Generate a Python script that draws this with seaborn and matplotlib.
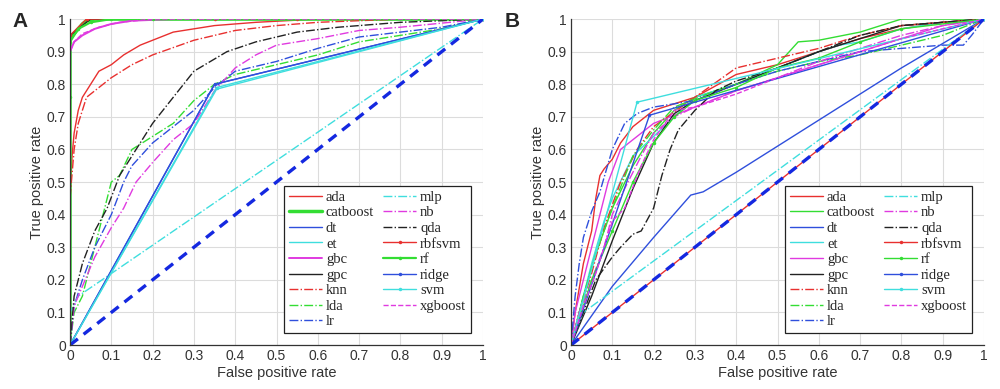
import numpy as np
import pandas as pd
import matplotlib
matplotlib.use("Agg")
import matplotlib.pyplot as plt
import seaborn as sns

# ── ROC points ────────────────────────────────────────────────────────
models = ["ada", "catboost", "dt", "et", "gbc", "gpc", "knn", "lda", "lr",
          "mlp", "nb", "qda", "rbfsvm", "rf", "ridge", "svm", "xgboost"]

# panel A
a_fpr = {
    "ada": [0, 0, 0.005, 0.01, 0.02, 0.03, 0.05, 0.07, 0.1, 0.13, 0.17, 0.2, 0.25, 0.3, 0.35, 0.45, 0.6, 1],
    "catboost": [0, 0, 0.01, 0.02, 0.03, 0.04, 0.06, 1],
    "dt": [0, 0.35, 1],
    "et": [0, 0.355, 1],
    "gbc": [0, 0, 0.01, 0.03, 0.06, 0.1, 0.15, 0.25, 1],
    "gpc": [0, 0, 0.02, 0.05, 1],
    "knn": [0, 0, 0.01, 0.02, 0.04, 0.07, 0.1, 0.15, 0.2, 0.3, 0.4, 0.5, 0.6, 0.8, 1],
    "lda": [0, 0.01, 0.03, 0.05, 0.07, 0.1, 0.12, 0.15, 0.2, 0.25, 0.3, 0.35, 0.4, 0.5, 0.6, 0.7, 0.8, 0.9, 1],
    "lr": [0, 0.01, 0.03, 0.06, 0.1, 0.13, 0.15, 0.2, 0.25, 0.3, 0.35, 0.4, 0.5, 0.6, 0.7, 0.8, 0.9, 1],
    "mlp": [0, 0, 0.02, 1],
    "nb": [0, 0.01, 0.03, 0.06, 0.1, 0.13, 0.16, 0.2, 0.25, 0.3, 0.35, 0.4, 0.45, 0.5, 0.6, 0.7, 0.8, 1],
    "qda": [0, 0.01, 0.03, 0.06, 0.09, 0.12, 0.15, 0.2, 0.25, 0.3, 0.38, 0.45, 0.55, 0.65, 0.8, 1],
    "rbfsvm": [0, 0, 0.04, 0.35, 0.55, 1],
    "rf": [0, 0, 0, 0.02, 0.05, 0.1, 0.2, 1],
    "ridge": [0, 0.35, 1],
    "svm": [0, 0.355, 1],
    "xgboost": [0, 0, 0.01, 0.03, 0.07, 0.12, 0.2, 1],
}
a_tpr = {
    "ada": [0, 0.45, 0.58, 0.65, 0.72, 0.76, 0.80, 0.84, 0.86, 0.89, 0.92, 0.935, 0.96, 0.97, 0.98, 0.99, 1, 1],
    "catboost": [0, 0.94, 0.955, 0.97, 0.985, 0.995, 1, 1],
    "dt": [0, 0.8, 1],
    "et": [0, 0.785, 1],
    "gbc": [0, 0.9, 0.93, 0.95, 0.97, 0.985, 0.995, 1, 1],
    "gpc": [0, 0.95, 0.97, 1, 1],
    "knn": [0, 0.45, 0.6, 0.68, 0.76, 0.79, 0.82, 0.86, 0.89, 0.935, 0.965, 0.98, 0.99, 1, 1],
    "lda": [0, 0.1, 0.15, 0.25, 0.35, 0.5, 0.52, 0.6, 0.64, 0.68, 0.75, 0.8, 0.83, 0.86, 0.89, 0.93, 0.95, 0.97, 1],
    "lr": [0, 0.12, 0.2, 0.3, 0.4, 0.5, 0.55, 0.62, 0.67, 0.72, 0.79, 0.84, 0.87, 0.91, 0.945, 0.96, 0.975, 1],
    "mlp": [0, 0.1, 0.15, 1],
    "nb": [0, 0.12, 0.18, 0.27, 0.36, 0.42, 0.5, 0.56, 0.63, 0.68, 0.78, 0.85, 0.89, 0.92, 0.94, 0.965, 0.975, 1],
    "qda": [0, 0.15, 0.25, 0.35, 0.42, 0.52, 0.58, 0.68, 0.76, 0.84, 0.9, 0.93, 0.96, 0.975, 0.99, 1],
    "rbfsvm": [0, 0.95, 1, 1, 1, 1],
    "rf": [0, 0.76, 0.93, 0.97, 0.99, 1, 1, 1],
    "ridge": [0, 0.8, 1],
    "svm": [0, 0.79, 1],
    "xgboost": [0, 0.9, 0.93, 0.955, 0.975, 0.99, 1, 1],
}

# panel B
b_fpr = {
    "ada": [0, 0.01, 0.03, 0.05, 0.06, 0.07, 0.08, 0.1, 0.12, 0.15, 0.2, 0.25, 0.3, 0.4, 0.5, 0.6, 0.7, 0.8, 0.9, 1],
    "catboost": [0, 0.03, 0.06, 0.1, 0.15, 0.2, 0.25, 0.3, 0.4, 0.5, 0.55, 0.6, 0.7, 0.8, 1],
    "dt": [0, 0.1, 0.2, 0.29, 0.32, 0.4, 0.6, 0.8, 1],
    "et": [0, 0.02, 0.05, 0.08, 0.1, 0.15, 0.2, 0.25, 0.3, 0.4, 0.5, 0.6, 0.65, 0.7, 0.8, 0.9, 1],
    "gbc": [0, 0.01, 0.03, 0.06, 0.09, 0.12, 0.15, 0.2, 0.3, 0.4, 0.5, 0.6, 0.7, 0.8, 0.9, 1],
    "gpc": [0, 0.05, 0.1, 0.15, 0.2, 0.25, 0.3, 0.4, 0.5, 0.6, 0.7, 0.8, 1],
    "knn": [0, 0.02, 0.05, 0.08, 0.12, 0.16, 0.2, 0.3, 0.4, 0.5, 0.6, 0.7, 0.8, 1],
    "lda": [0, 0.03, 0.06, 0.1, 0.15, 0.2, 0.25, 0.35, 0.5, 0.6, 0.7, 0.8, 0.9, 1],
    "lr": [0, 0.01, 0.02, 0.03, 0.05, 0.07, 0.1, 0.13, 0.16, 0.2, 0.3, 0.4, 0.5, 0.6, 0.7, 0.8, 0.9, 0.95, 0.97, 1],
    "mlp": [0, 0.03, 1],
    "nb": [0, 0.02, 0.05, 0.08, 0.1, 0.13, 0.17, 0.2, 0.25, 0.3, 0.4, 0.5, 0.6, 0.7, 0.8, 0.9, 1],
    "qda": [0, 0.03, 0.06, 0.1, 0.12, 0.15, 0.17, 0.2, 0.21, 0.22, 0.24, 0.26, 0.3, 0.35, 0.4, 0.5, 0.6, 0.7, 0.8, 1],
    "rbfsvm": [0, 1],
    "rf": [0, 0.05, 0.1, 0.15, 0.2, 0.25, 0.3, 0.4, 0.5, 0.6, 0.7, 0.8, 1],
    "ridge": [0, 0.19, 1],
    "svm": [0, 0.16, 1],
    "xgboost": [0, 0.03, 0.06, 0.1, 0.13, 0.17, 0.2, 0.25, 0.3, 0.4, 0.5, 0.6, 0.7, 0.8, 0.9, 1],
}
b_tpr = {
    "ada": [0, 0.1, 0.25, 0.35, 0.45, 0.52, 0.54, 0.57, 0.62, 0.67, 0.72, 0.74, 0.76, 0.83, 0.86, 0.9, 0.94, 0.97, 0.99, 1],
    "catboost": [0, 0.15, 0.28, 0.42, 0.55, 0.65, 0.72, 0.76, 0.8, 0.86, 0.93, 0.935, 0.96, 1, 1],
    "dt": [0, 0.18, 0.33, 0.46, 0.47, 0.53, 0.69, 0.85, 1],
    "et": [0, 0.1, 0.25, 0.38, 0.45, 0.58, 0.64, 0.7, 0.76, 0.8, 0.85, 0.9, 0.92, 0.93, 0.97, 0.99, 1],
    "gbc": [0, 0.1, 0.2, 0.35, 0.5, 0.6, 0.63, 0.68, 0.73, 0.78, 0.82, 0.86, 0.9, 0.94, 0.98, 1],
    "gpc": [0, 0.15, 0.32, 0.48, 0.62, 0.71, 0.75, 0.8, 0.85, 0.9, 0.94, 0.98, 1],
    "knn": [0, 0.1, 0.22, 0.36, 0.5, 0.6, 0.67, 0.76, 0.85, 0.88, 0.91, 0.95, 0.98, 1],
    "lda": [0, 0.15, 0.28, 0.42, 0.58, 0.66, 0.73, 0.78, 0.84, 0.87, 0.89, 0.92, 0.95, 1],
    "lr": [0, 0.15, 0.25, 0.33, 0.41, 0.47, 0.6, 0.68, 0.71, 0.73, 0.75, 0.8, 0.84, 0.87, 0.9, 0.91, 0.92, 0.92, 0.95, 1],
    "mlp": [0, 0.1, 1],
    "nb": [0, 0.1, 0.2, 0.3, 0.4, 0.48, 0.58, 0.65, 0.7, 0.73, 0.78, 0.82, 0.87, 0.91, 0.95, 0.98, 1],
    "qda": [0, 0.1, 0.2, 0.27, 0.3, 0.34, 0.35, 0.42, 0.47, 0.52, 0.6, 0.66, 0.72, 0.78, 0.81, 0.85, 0.9, 0.95, 0.98, 1],
    "rbfsvm": [0, 1],
    "rf": [0, 0.2, 0.35, 0.5, 0.62, 0.7, 0.75, 0.79, 0.85, 0.88, 0.93, 0.97, 1],
    "ridge": [0, 0.705, 1],
    "svm": [0, 0.745, 1],
    "xgboost": [0, 0.12, 0.22, 0.38, 0.42, 0.55, 0.63, 0.72, 0.73, 0.77, 0.82, 0.86, 0.9, 0.94, 0.97, 1],
}

ticks = [0, 0.1, 0.2, 0.3, 0.4, 0.5, 0.6, 0.7, 0.8, 0.9, 1]
tick_labels = ["0", "0.1", "0.2", "0.3", "0.4", "0.5", "0.6", "0.7", "0.8", "0.9", "1"]
chance = [0, 1]
# ──────────────────────────────────────────────────────────────────────

R, G, B, C, M, K = "#e8302f", "#33dd33", "#2f4fdc", "#3fdede", "#e03ae0", "#222222"
style = {
    "ada": (R, "-", None), "catboost": (G, "-", None), "dt": (B, "-", None),
    "et": (C, "-", None), "gbc": (M, "-", None), "gpc": (K, "-", None),
    "knn": (R, "-.", None), "lda": (G, "-.", None), "lr": (B, "-.", None),
    "mlp": (C, "-.", None), "nb": (M, "-.", None), "qda": (K, "-.", None),
    "rbfsvm": (R, "-", "."), "rf": (G, "-", "."), "ridge": (B, "-", "."),
    "svm": (C, "-", "."), "xgboost": (M, "--", None),
}

sns.set_style("white")
plt.rcParams["font.family"] = ["Liberation Sans", "DejaVu Sans"]

fig = plt.figure(figsize=(10, 3.89), dpi=100)
axA = fig.add_axes([0.07, 0.113, 0.413, 0.838])
axB = fig.add_axes([0.571, 0.113, 0.413, 0.838])


def draw(ax, fpr, tpr, thick):
    ax.grid(True, color="#dcdcdc", linewidth=0.8)
    ax.set_axisbelow(True)
    for m in models:
        col, ls, mk = style[m]
        df = pd.DataFrame({"fpr": fpr[m], "tpr": tpr[m]})
        sns.lineplot(data=df, x="fpr", y="tpr", ax=ax, color=col, linestyle=ls,
                     marker=mk, markersize=5, markeredgewidth=0,
                     linewidth=thick.get(m, 1.0), estimator=None, sort=False,
                     label=m)
    sns.lineplot(x=chance, y=chance, ax=ax, color="#1428e0", linestyle=(0, (3, 2.2)),
                 linewidth=2.4, estimator=None, sort=False, legend=False)
    ax.set_xlim(0, 1)
    ax.set_ylim(0, 1)
    ax.set_xticks(ticks)
    ax.set_yticks(ticks)
    ax.set_xticklabels(tick_labels, fontsize=10, color="#333333")
    ax.set_yticklabels(tick_labels, fontsize=10, color="#333333")
    ax.tick_params(direction="in", length=4, width=0.8, color="#333333", pad=3)
    ax.set_xlabel("False positive rate", fontsize=10.5, color="#333333", labelpad=2)
    ax.set_ylabel("True positive rate", fontsize=10.5, color="#333333", labelpad=2)
    for s in ("top", "right"):
        ax.spines[s].set_visible(False)
    for s in ("left", "bottom"):
        ax.spines[s].set_color("#333333")
        ax.spines[s].set_linewidth(0.9)
    leg = ax.legend(loc="lower right", ncol=2, frameon=True, fancybox=False,
                    edgecolor="#222222", framealpha=1,
                    prop={"family": "Liberation Serif", "size": 10.5},
                    handlelength=2.3, handletextpad=0.25, columnspacing=0.6,
                    labelspacing=0.16, borderpad=0.35, borderaxespad=0.8)
    leg.get_frame().set_linewidth(0.9)


draw(axA, a_fpr, a_tpr, {"catboost": 2.5, "gbc": 1.4, "rf": 1.6})
draw(axB, b_fpr, b_tpr, {})

fig.text(0.012, 0.945, "A", fontsize=15, fontweight="bold", va="center")
fig.text(0.505, 0.945, "B", fontsize=15, fontweight="bold", va="center")

fig.savefig("out.png", dpi=100)
